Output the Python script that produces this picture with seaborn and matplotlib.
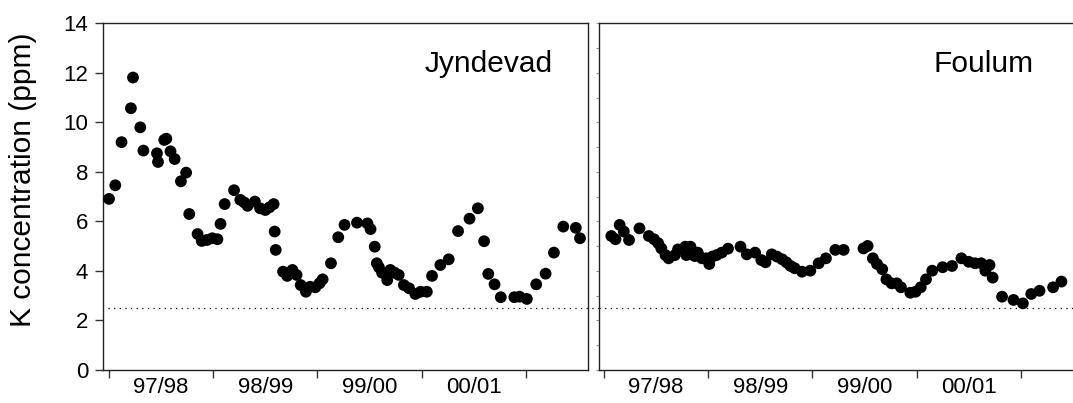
import numpy as np
import pandas as pd
import matplotlib
matplotlib.use("Agg")
import matplotlib.pyplot as plt
import seaborn as sns

# K concentration readings, decimal year vs ppm
jyndevad_year = [1997.50, 1997.56, 1997.62, 1997.71, 1997.73, 1997.80, 1997.83, 1997.96, 1997.97,
                 1998.03, 1998.05, 1998.09, 1998.13, 1998.19, 1998.24, 1998.27, 1998.35, 1998.39,
                 1998.44, 1998.49, 1998.54, 1998.57, 1998.61, 1998.70, 1998.76, 1998.80, 1998.83,
                 1998.90, 1998.95, 1999.00, 1999.04, 1999.08, 1999.09, 1999.10, 1999.17, 1999.21,
                 1999.26, 1999.30, 1999.34, 1999.39, 1999.43, 1999.48, 1999.52, 1999.55, 1999.63,
                 1999.70, 1999.76, 1999.88, 1999.98, 2000.01, 2000.05, 2000.07, 2000.09, 2000.12,
                 2000.17, 2000.20, 2000.24, 2000.28, 2000.33, 2000.38, 2000.44, 2000.49, 2000.55,
                 2000.60, 2000.68, 2000.76, 2000.85, 2000.96, 2001.04, 2001.10, 2001.14, 2001.20,
                 2001.26, 2001.39, 2001.44, 2001.51, 2001.60, 2001.69, 2001.77, 2001.86, 2001.98,
                 2002.02]
jyndevad_k = [6.91, 7.46, 9.20, 10.57, 11.81, 9.80, 8.86, 8.75, 8.40,
              9.29, 9.34, 8.83, 8.52, 7.62, 7.97, 6.30, 5.49, 5.21,
              5.25, 5.32, 5.28, 5.90, 6.70, 7.26, 6.87, 6.76, 6.63,
              6.80, 6.53, 6.46, 6.57, 6.70, 5.59, 4.85, 3.97, 3.80,
              4.04, 3.84, 3.43, 3.16, 3.36, 3.34, 3.50, 3.66, 4.31,
              5.36, 5.86, 5.95, 5.92, 5.69, 4.98, 4.31, 4.15, 3.93,
              3.63, 4.04, 3.93, 3.84, 3.43, 3.30, 3.07, 3.16, 3.16,
              3.80, 4.24, 4.47, 5.61, 6.11, 6.53, 5.20, 3.88, 3.46,
              2.94, 2.94, 2.96, 2.87, 3.46, 3.89, 4.74, 5.79, 5.74,
              5.32]

foulum_year = [1997.57, 1997.61, 1997.65, 1997.69, 1997.74, 1997.84, 1997.93, 1997.98, 1998.02,
               1998.05, 1998.09, 1998.12, 1998.18, 1998.21, 1998.28, 1998.29, 1998.33, 1998.37,
               1998.40, 1998.44, 1998.48, 1998.51, 1998.54, 1998.58, 1998.63, 1998.69, 1998.81,
               1998.87, 1998.95, 1999.01, 1999.05, 1999.11, 1999.16, 1999.21, 1999.25, 1999.29,
               1999.33, 1999.40, 1999.48, 1999.56, 1999.63, 1999.72, 1999.80, 1999.99, 2000.03,
               2000.08, 2000.12, 2000.17, 2000.21, 2000.26, 2000.31, 2000.35, 2000.44, 2000.49,
               2000.54, 2000.59, 2000.65, 2000.75, 2000.84, 2000.93, 2001.00, 2001.06, 2001.12,
               2001.16, 2001.20, 2001.23, 2001.32, 2001.43, 2001.52, 2001.60, 2001.68, 2001.81,
               2001.89]
foulum_k = [5.41, 5.28, 5.86, 5.59, 5.25, 5.72, 5.41, 5.28, 5.12,
            4.91, 4.64, 4.51, 4.64, 4.87, 4.98, 4.64, 4.98, 4.60,
            4.74, 4.51, 4.51, 4.28, 4.58, 4.64, 4.74, 4.90, 4.98,
            4.67, 4.74, 4.44, 4.35, 4.67, 4.58, 4.47, 4.35, 4.20,
            4.11, 3.97, 4.01, 4.31, 4.51, 4.85, 4.85, 4.91, 5.01,
            4.51, 4.28, 4.07, 3.66, 3.50, 3.50, 3.34, 3.12, 3.16,
            3.34, 3.66, 4.01, 4.15, 4.20, 4.51, 4.37, 4.31, 4.31,
            4.01, 4.24, 3.73, 2.96, 2.83, 2.69, 3.07, 3.20, 3.34,
            3.57]

season_edges = [1997.5, 1998.5, 1999.5, 2000.5, 2001.5]
season_mids = [1998.0, 1999.0, 2000.0, 2001.0]
season_labels = ["97/98", "98/99", "99/00", "00/01"]
threshold = 2.5

df = pd.concat([
    pd.DataFrame({"site": "Jyndevad", "year": jyndevad_year, "k": jyndevad_k}),
    pd.DataFrame({"site": "Foulum", "year": foulum_year, "k": foulum_k}),
])

sns.set_style("white")
plt.rcParams["font.family"] = ["Liberation Sans", "DejaVu Sans"]
plt.rcParams["text.color"] = "black"
plt.rcParams["axes.labelcolor"] = "black"
plt.rcParams["xtick.color"] = "black"
plt.rcParams["ytick.color"] = "black"

W, H = 1073, 403
fig = plt.figure(figsize=(W / 100, H / 100), dpi=100)
bottom, height = (H - 370) / H, (370 - 23.3) / H
ax1 = fig.add_axes([103.3 / W, bottom, (588 - 103.3) / W, height])
ax2 = fig.add_axes([598.5 / W, bottom, (W - 598.5) / W, height])

for ax, site in [(ax1, "Jyndevad"), (ax2, "Foulum")]:
    sns.scatterplot(data=df[df["site"] == site], x="year", y="k", color="black",
                    s=72, edgecolor="none", linewidth=0, ax=ax, zorder=3)
    ax.set_ylim(0, 14)
    ax.set_xlabel("")
    ax.set_ylabel("")
    ax.set_xticks(season_edges)
    ax.set_xticklabels([])
    ax.set_xticks(season_mids, minor=True)
    ax.set_xticklabels(season_labels, minor=True, fontsize=16)
    ax.tick_params(axis="x", which="major", direction="out", length=6, width=1,
                   color="#333333", bottom=True)
    ax.tick_params(axis="x", which="minor", length=0, pad=5, labelcolor="black")
    for sp in ax.spines.values():
        sp.set_color("#222222")
        sp.set_linewidth(1)
    ax.text(0.928 if site == "Jyndevad" else 0.918, 0.86, site, transform=ax.transAxes,
            ha="right", va="baseline", fontsize=21.5, color="black")

ax1.set_xlim(1997.445, 2002.097)
ax2.set_xlim(1997.447, 2002.001)

ax1.set_yticks(np.arange(0, 15, 2))
ax1.tick_params(axis="y", direction="out", length=6, width=1, color="#333333",
                labelsize=16, labelcolor="black", pad=5, left=True)
ax1.set_ylabel("K concentration (ppm)", fontsize=21.5, color="black")
ax1.yaxis.set_label_coords(-0.137, 0.548)

ax2.set_yticks(np.arange(0, 15, 1))
ax2.set_yticklabels([])
ax2.tick_params(axis="y", direction="out", length=2.5, width=0.8, color="#999999", left=True)
ax2.spines["right"].set_visible(False)

# dotted reference line, carried across the gap between the panels
gap = (598.5 - 588) / (588 - 103.3)
ax1.axhline(threshold, xmin=0.01, xmax=1 + gap, color="black", lw=0.9,
            linestyle=(0, (1, 3.5)), clip_on=False, zorder=1)
ax2.axhline(threshold, color="black", lw=0.9, linestyle=(0, (1, 3.5)), zorder=1)

fig.savefig("out.png", dpi=100)
